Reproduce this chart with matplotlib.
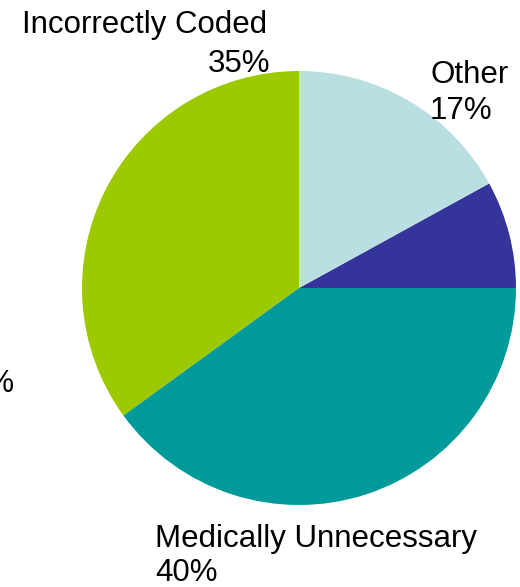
import matplotlib.pyplot as plt

plt.rcParams['font.family'] = ['Liberation Sans', 'DejaVu Sans']

# share of claims by reason, drawn counter-clockwise from 3 o'clock
categories = ['Denied', 'Other', 'Incorrectly Coded', 'Medically Unnecessary']
shares = [8, 17, 35, 40]
colors = ['#35349A', '#B9DFE3', '#9DC900', '#009A9A']

W, H = 520, 587
fig = plt.figure(figsize=(W / 100, H / 100), dpi=100)
ax = fig.add_axes([0, 0, 1, 1])

ax.pie(shares, colors=colors, startangle=0, counterclock=True,
       center=(299, H - 288), radius=217, frame=True,
       wedgeprops=dict(linewidth=0))
ax.set_xlim(0, W)
ax.set_ylim(0, H)
ax.set_aspect('equal')
ax.axis('off')


def label(x, y, s, ha='left'):
    # x, y in pixels from the top-left corner, y is the text baseline
    ax.text(x, H - y, s, ha=ha, va='baseline', fontsize=22.5, color='black')


label(22, 33, categories[2])
label(270, 72, f'{shares[2]}%', ha='right')
label(430, 83, categories[1])
label(430, 119, f'{shares[1]}%')
label(155, 547, categories[3])
label(155, 581, f'{shares[3]}%')
label(15, 392, f'{shares[0]}%', ha='right')

fig.savefig('out.png', dpi=100)
